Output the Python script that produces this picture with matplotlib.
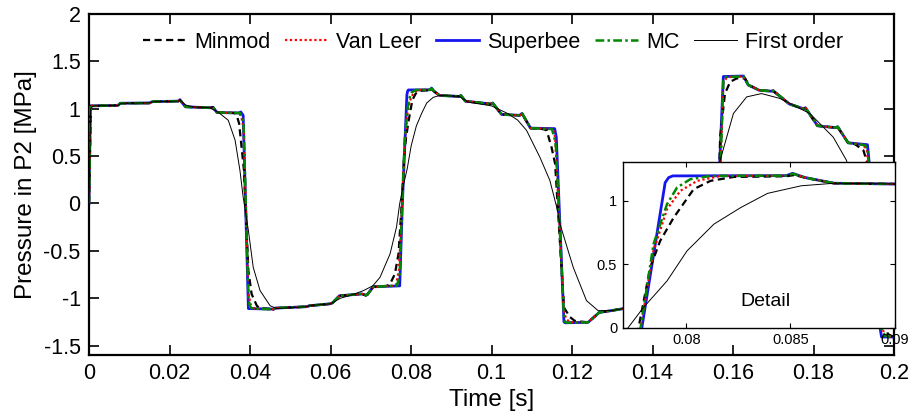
import matplotlib
matplotlib.use("Agg")
import matplotlib.pyplot as plt

plt.rcParams['font.family'] = ['Liberation Sans', 'DejaVu Sans']
plt.rcParams['axes.unicode_minus'] = False

# ---------------- data ----------------
superbee_t = [0.0, 0.0003, 0.0072, 0.0078, 0.0150, 0.0158, 0.0222, 0.0226, 0.0232, 0.0240,
              0.0302, 0.0308, 0.0318, 0.0372, 0.0377, 0.0383, 0.0396, 0.0456, 0.0458, 0.0462,
              0.0540, 0.0548, 0.0598, 0.0605, 0.0622, 0.0678, 0.0688, 0.0692, 0.0706, 0.0772,
              0.07786, 0.07898, 0.07915, 0.07935, 0.0848, 0.0851, 0.0857, 0.0871, 0.0920, 0.0924,
              0.0935, 0.0998, 0.1003, 0.1025, 0.1070, 0.1076, 0.1097, 0.1157, 0.1161, 0.1180,
              0.1183, 0.1240, 0.1268, 0.1300, 0.1400, 0.1420, 0.1500, 0.1520, 0.1555, 0.1576,
              0.1626, 0.1638, 0.1665, 0.1695, 0.1700, 0.1740, 0.1775, 0.1780, 0.1810, 0.1855,
              0.1860, 0.1886, 0.1934, 0.1938, 0.1966, 0.1969, 0.2000]
superbee_p = [0.0, 1.03, 1.035, 1.058, 1.06, 1.075, 1.08, 1.095, 1.06, 1.02,
              1.01, 1.015, 0.96, 0.955, 0.966, 0.93, -1.11, -1.115, -1.12, -1.105,
              -1.09, -1.08, -1.06, -1.05, -0.975, -0.955, -0.97, -0.96, -0.88, -0.87,
              0.0, 1.145, 1.185, 1.198, 1.20, 1.218, 1.185, 1.14, 1.13, 1.14,
              1.08, 1.05, 1.06, 0.94, 0.93, 0.95, 0.795, 0.79, 0.70, -1.25,
              -1.26, -1.255, -1.15, -1.13, -1.06, -0.97, -0.92, -0.80, -0.78, 1.34,
              1.345, 1.25, 1.195, 1.185, 1.19, 1.05, 1.0, 1.01, 0.82, 0.80,
              0.81, 0.64, 0.62, 0.45, -1.33, -1.41, -1.41]

minmod_t = [0.0, 0.0005, 0.0072, 0.0078, 0.0150, 0.0158, 0.0222, 0.0226, 0.0232, 0.0240,
            0.0302, 0.0308, 0.0318, 0.0362, 0.0367, 0.0373, 0.0379, 0.0385, 0.0396, 0.0404,
            0.0417, 0.0424, 0.0458, 0.0462, 0.0540, 0.0548, 0.0598, 0.0605, 0.0622, 0.0678,
            0.0688, 0.0692, 0.0706, 0.0740, 0.0748, 0.0760, 0.0769, 0.0777, 0.07826, 0.07874,
            0.07939, 0.08035, 0.08116, 0.08229, 0.0848, 0.0852, 0.0858, 0.0871, 0.0920, 0.0924,
            0.0935, 0.0998, 0.1003, 0.1025, 0.1070, 0.1076, 0.1097, 0.1128, 0.1137, 0.1149,
            0.1158, 0.1180, 0.1183, 0.1195, 0.1207, 0.1240, 0.1268, 0.1300, 0.1400, 0.1420,
            0.1500, 0.1520, 0.1550, 0.1560, 0.1568, 0.1580, 0.1593, 0.1609, 0.1630, 0.1640,
            0.1665, 0.1695, 0.1700, 0.1740, 0.1775, 0.1780, 0.1810, 0.1855, 0.1860, 0.1886,
            0.1900, 0.1907, 0.1924, 0.1932, 0.1945, 0.1970, 0.1985, 0.2000]
minmod_p = [0.0, 1.03, 1.035, 1.058, 1.06, 1.075, 1.08, 1.09, 1.06, 1.02,
            1.01, 1.015, 0.96, 0.955, 0.93, 0.843, 0.596, 0.35, -0.709, -0.956,
            -1.08, -1.105, -1.115, -1.105, -1.09, -1.08, -1.06, -1.05, -0.975, -0.955,
            -0.97, -0.96, -0.88, -0.87, -0.85, -0.744, -0.53, 0.0, 0.474, 0.685,
            0.869, 1.093, 1.159, 1.19, 1.195, 1.205, 1.18, 1.14, 1.13, 1.135,
            1.08, 1.05, 1.055, 0.94, 0.93, 0.945, 0.795, 0.785, 0.772, 0.596,
            0.42, -1.097, -1.12, -1.2, -1.24, -1.255, -1.15, -1.13, -1.06, -0.97,
            -0.92, -0.80, -0.785, -0.6, 0.70, 1.16, 1.284, 1.32, 1.32, 1.25,
            1.195, 1.185, 1.185, 1.05, 1.0, 1.005, 0.82, 0.80, 0.805, 0.64,
            0.63, 0.614, 0.56, 0.45, -0.3, -1.2, -1.38, -1.41]

vanleer_t = [0.0, 0.0004, 0.0072, 0.0078, 0.0150, 0.0158, 0.0222, 0.0226, 0.0232, 0.0240,
             0.0302, 0.0308, 0.0318, 0.0368, 0.0374, 0.0379, 0.0384, 0.0396, 0.0402, 0.0410,
             0.0458, 0.0462, 0.0540, 0.0548, 0.0598, 0.0605, 0.0622, 0.0678, 0.0688, 0.0692,
             0.0706, 0.0755, 0.0763, 0.0770, 0.0778, 0.07842, 0.07907, 0.07971, 0.08052, 0.08165,
             0.0848, 0.0851, 0.0857, 0.0871, 0.0920, 0.0924, 0.0935, 0.0998, 0.1003, 0.1025,
             0.1070, 0.1076, 0.1097, 0.1145, 0.1153, 0.1158, 0.1180, 0.1186, 0.1195, 0.1240,
             0.1268, 0.1300, 0.1400, 0.1420, 0.1500, 0.1520, 0.1555, 0.1562, 0.1576, 0.1585,
             0.1600, 0.1626, 0.1638, 0.1665, 0.1695, 0.1700, 0.1740, 0.1775, 0.1780, 0.1810,
             0.1855, 0.1860, 0.1886, 0.1918, 0.1925, 0.1933, 0.1945, 0.1968, 0.1980, 0.2000]
vanleer_p = [0.0, 1.03, 1.035, 1.058, 1.06, 1.075, 1.08, 1.093, 1.06, 1.02,
             1.01, 1.015, 0.96, 0.955, 0.95, 0.90, 0.8, -0.95, -1.07, -1.11,
             -1.118, -1.105, -1.09, -1.08, -1.06, -1.05, -0.975, -0.955, -0.97, -0.96,
             -0.88, -0.87, -0.86, -0.70, 0.0, 0.606, 0.935, 1.08, 1.159, 1.198,
             1.20, 1.215, 1.185, 1.14, 1.13, 1.14, 1.08, 1.05, 1.06, 0.94,
             0.93, 0.95, 0.795, 0.79, 0.78, 0.70, -1.15, -1.22, -1.255, -1.255,
             -1.15, -1.13, -1.06, -0.97, -0.92, -0.80, -0.78, -0.5, 1.28, 1.33,
             1.34, 1.34, 1.25, 1.195, 1.185, 1.19, 1.05, 1.0, 1.01, 0.82,
             0.80, 0.81, 0.64, 0.625, 0.61, 0.55, -0.2, -1.3, -1.40, -1.41]

mc_t = [0.0, 0.0004, 0.0072, 0.0078, 0.0150, 0.0158, 0.0222, 0.0226, 0.0232, 0.0240,
        0.0302, 0.0308, 0.0318, 0.0370, 0.0375, 0.0381, 0.0384, 0.0396, 0.0400, 0.0406,
        0.0458, 0.0462, 0.0540, 0.0548, 0.0598, 0.0605, 0.0622, 0.0678, 0.0688, 0.0692,
        0.0706, 0.0758, 0.0765, 0.0772, 0.0778, 0.07842, 0.07907, 0.07955, 0.08019, 0.08116,
        0.0848, 0.0851, 0.0857, 0.0871, 0.0920, 0.0924, 0.0935, 0.0998, 0.1003, 0.1025,
        0.1070, 0.1076, 0.1097, 0.1150, 0.1156, 0.1160, 0.1180, 0.1182, 0.1188, 0.1240,
        0.1268, 0.1300, 0.1400, 0.1420, 0.1500, 0.1520, 0.1555, 0.1562, 0.1576, 0.1582,
        0.1626, 0.1638, 0.1665, 0.1695, 0.1700, 0.1740, 0.1775, 0.1780, 0.1810, 0.1855,
        0.1860, 0.1886, 0.1928, 0.1935, 0.1945, 0.1968, 0.1978, 0.2000]
mc_p = [0.0, 1.03, 1.035, 1.058, 1.06, 1.075, 1.08, 1.093, 1.06, 1.02,
        1.01, 1.015, 0.96, 0.955, 0.955, 0.90, 0.85, -1.0, -1.09, -1.11,
        -1.118, -1.105, -1.09, -1.08, -1.06, -1.05, -0.975, -0.955, -0.97, -0.96,
        -0.88, -0.87, -0.87, -0.75, 0.0, 0.66, 0.975, 1.106, 1.172, 1.198,
        1.20, 1.215, 1.185, 1.14, 1.13, 1.14, 1.08, 1.05, 1.06, 0.94,
        0.93, 0.95, 0.795, 0.785, 0.70, 0.6, -1.2, -1.25, -1.26, -1.255,
        -1.15, -1.13, -1.06, -0.97, -0.92, -0.80, -0.78, -0.5, 1.30, 1.335,
        1.34, 1.25, 1.195, 1.185, 1.19, 1.05, 1.0, 1.01, 0.82, 0.80,
        0.81, 0.64, 0.615, 0.57, -0.2, -1.32, -1.40, -1.41]

first_t = [0.0, 0.0004, 0.0010, 0.0072, 0.0080, 0.0150, 0.0160, 0.0222, 0.0228, 0.0240,
           0.0255, 0.0300, 0.0320, 0.0325, 0.0346, 0.0363, 0.0375, 0.0383, 0.0396, 0.0408,
           0.0425, 0.0450, 0.0466, 0.0540, 0.0555, 0.0600, 0.0625, 0.0650, 0.0682, 0.0705,
           0.0723, 0.0748, 0.0764, 0.0772, 0.07793, 0.07907, 0.08003, 0.08132, 0.08261, 0.0839,
           0.08552, 0.0871, 0.0920, 0.0942, 0.1000, 0.1040, 0.1065, 0.1087, 0.1120, 0.1145,
           0.1162, 0.1170, 0.1203, 0.1236, 0.1265, 0.1300, 0.1400, 0.1470, 0.1510, 0.1535,
           0.1555, 0.1568, 0.1601, 0.1634, 0.1671, 0.1717, 0.1791, 0.1849, 0.1882, 0.1920,
           0.1950, 0.2000]
first_p = [0.0, 1.0, 1.03, 1.035, 1.057, 1.062, 1.073, 1.08, 1.085, 1.04,
           1.02, 1.01, 0.965, 0.95, 0.878, 0.667, 0.349, 0.067, -0.286, -0.674,
           -0.92, -1.08, -1.11, -1.09, -1.075, -1.06, -1.0, -0.97, -0.92, -0.87,
           -0.78, -0.532, -0.25, 0.0, 0.158, 0.369, 0.606, 0.817, 0.948, 1.06,
           1.12, 1.14, 1.13, 1.07, 1.03, 0.95, 0.88, 0.772, 0.49, 0.243,
           -0.04, -0.215, -0.674, -1.026, -1.132, -1.13, -1.06, -0.98, -0.8, -0.4,
           0.1, 0.455, 0.949, 1.125, 1.16, 1.108, 0.949, 0.70, 0.455, -0.2,
           -0.8, -1.25]

series_names = ["Minmod", "Van Leer", "Superbee", "MC", "First order"]
x_ticks = [0, 0.02, 0.04, 0.06, 0.08, 0.1, 0.12, 0.14, 0.16, 0.18, 0.2]
x_tick_labels = ["0", "0.02", "0.04", "0.06", "0.08", "0.1", "0.12", "0.14", "0.16", "0.18", "0.2"]
y_ticks = [-1.5, -1, -0.5, 0, 0.5, 1, 1.5, 2]
y_tick_labels = ["-1.5", "-1", "-0.5", "0", "0.5", "1", "1.5", "2"]
inset_x_ticks = [0.08, 0.085, 0.09]
inset_x_tick_labels = ["0.08", "0.085", "0.09"]
inset_y_ticks = [0, 0.5, 1]
inset_y_tick_labels = ["0", "0.5", "1"]

# ---------------- styles ----------------
styles = {
    "Minmod": dict(color="black", linestyle=(0, (3.2, 2.0)), linewidth=1.6, zorder=3),
    "Van Leer": dict(color="red", linestyle=(0, (1, 1.2)), linewidth=1.6, zorder=4),
    "Superbee": dict(color="#1515ee", linestyle="-", linewidth=2.0, zorder=2),
    "MC": dict(color="#008800", linestyle=(0, (3.5, 1.3, 1, 1.3)), linewidth=1.8, zorder=5),
    "First order": dict(color="black", linestyle="-", linewidth=0.7, zorder=6),
}
data = {
    "Minmod": (minmod_t, minmod_p),
    "Van Leer": (vanleer_t, vanleer_p),
    "Superbee": (superbee_t, superbee_p),
    "MC": (mc_t, mc_p),
    "First order": (first_t, first_p),
}

fig = plt.figure(figsize=(9.16, 4.19), dpi=100)
ax = fig.add_axes([89/916, 1 - 355/419, (894 - 89)/916, (355 - 14)/419])

for name in series_names:
    t, p = data[name]
    ax.plot(t, p, label=name, **styles[name])

ax.set_xlim(0, 0.2)
ax.set_ylim(-1.6, 2)
ax.set_xticks(x_ticks)
ax.set_xticklabels(x_tick_labels)
ax.set_yticks(y_ticks)
ax.set_yticklabels(y_tick_labels)
ax.tick_params(direction="in", length=7.5, width=1.2, labelsize=15.5,
               top=True, right=True, pad=6)
for s in ax.spines.values():
    s.set_linewidth(1.6)
ax.set_xlabel("Time [s]", fontsize=17.5)
ax.set_ylabel("Pressure in P2 [MPa]", fontsize=17.5)
ax.xaxis.set_label_coords(0.5, -0.1)
ax.yaxis.set_label_coords(-0.064, 0.5)

leg = ax.legend(loc="upper center", ncol=5, frameon=False, fontsize=15.5,
                handlelength=2.0, handletextpad=0.35, columnspacing=0.7,
                bbox_to_anchor=(0.502, 0.985), borderaxespad=0.2)

# ---------------- inset ----------------
axin = fig.add_axes([622.7/916, 1 - 327.7/419, (894.5 - 622.7)/916, (327.7 - 161.7)/419])
axin.set_facecolor("white")
for name in series_names:
    t, p = data[name]
    axin.plot(t, p, **styles[name])
axin.set_xlim(0.07694, 0.09)
axin.set_ylim(0, 1.31)
axin.set_xticks(inset_x_ticks)
axin.set_xticklabels(inset_x_tick_labels)
axin.set_yticks(inset_y_ticks)
axin.set_yticklabels(inset_y_tick_labels)
axin.tick_params(direction="in", length=3.5, width=0.8, labelsize=10.5,
                 top=True, right=True, pad=4)
for s in axin.spines.values():
    s.set_linewidth(1.0)
axin.text(0.0838, 0.205, "Detail", fontsize=14, ha="center", va="center")

fig.savefig("out.png", dpi=100)
